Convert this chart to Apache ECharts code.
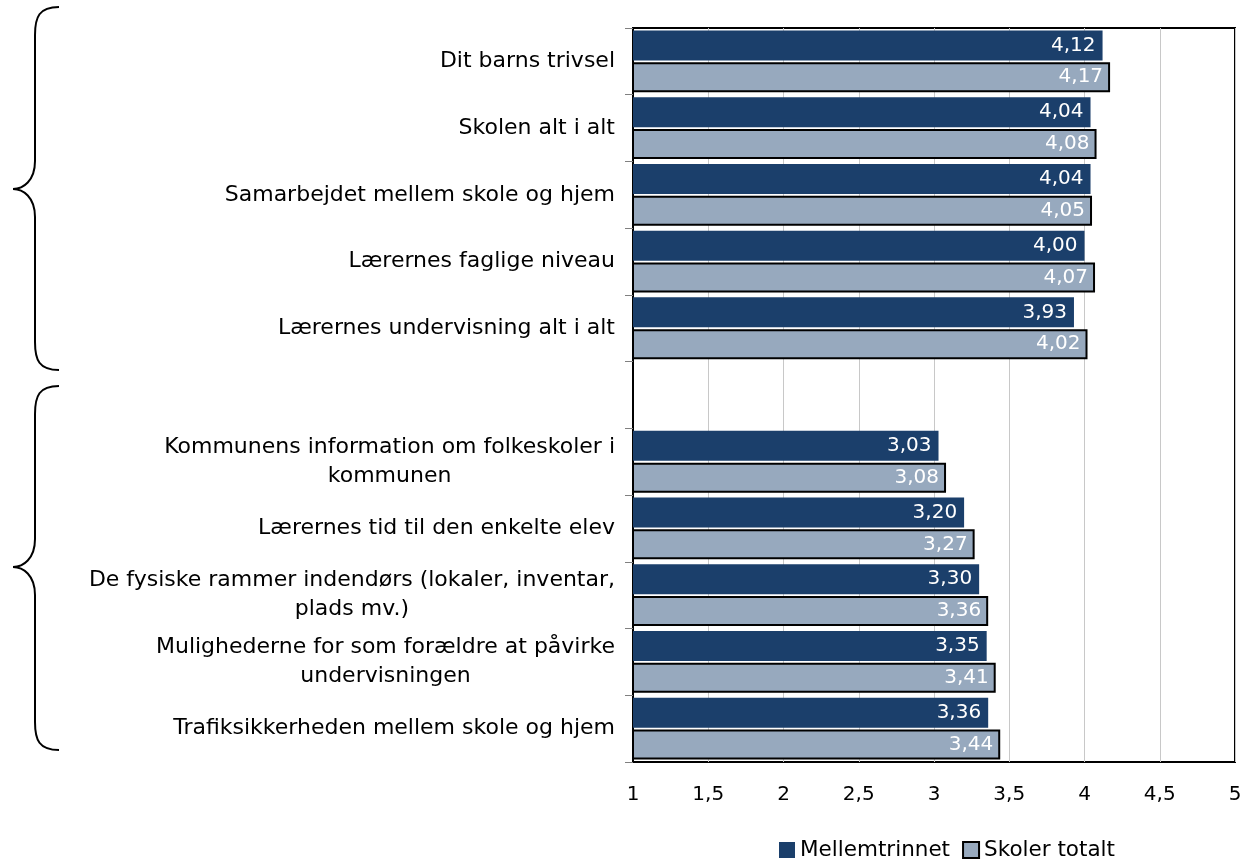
<!DOCTYPE html>
<html>
<head>
<meta charset="utf-8">
<script src="https://cdn.jsdelivr.net/npm/echarts@6/dist/echarts.min.js"></script>
<style>
html,body{margin:0;padding:0;background:#fff;}
#chart{width:1248px;height:859px;}
</style>
</head>
<body>
<div id="chart"></div>
<script>
const categories = [
  "Dit barns trivsel",
  "Skolen alt i alt",
  "Samarbejdet mellem skole og hjem",
  "Lærernes faglige niveau",
  "Lærernes undervisning alt i alt",
  "",
  "Kommunens information om folkeskoler i\nkommunen",
  "Lærernes tid til den enkelte elev",
  "De fysiske rammer indendørs (lokaler, inventar,\nplads mv.)",
  "Mulighederne for som forældre at påvirke\nundervisningen",
  "Trafiksikkerheden mellem skole og hjem"
];
const mellemtrinnet = [4.12, 4.04, 4.04, 4.00, 3.93, null, 3.03, 3.20, 3.30, 3.35, 3.36];
const skolerTotalt  = [4.17, 4.08, 4.05, 4.07, 4.02, null, 3.08, 3.27, 3.36, 3.41, 3.44];
const xTicks = [1, 1.5, 2, 2.5, 3, 3.5, 4, 4.5, 5];
const seriesNames = ["Mellemtrinnet", "Skoler totalt"];

const FONT = '"DejaVu Sans", Verdana, sans-serif';
const fmtNum = v => String(v).replace('.', ',');
const fmtVal = p => (p.value == null ? '' : p.value.toFixed(2).replace('.', ','));

// curly brace decoration built from bezier curves and lines
function brace(top, mid, bottom) {
  const xe = 59, xv = 35, xp = 13;
  const st = {fill: 'none', stroke: '#000', lineWidth: 2};
  const r = 28;
  return [
    {type: 'bezierCurve', shape: {x1: xe, y1: top, cpx1: xv + 4, cpy1: top, cpx2: xv, cpy2: top + 10, x2: xv, y2: top + r}, style: st},
    {type: 'line', shape: {x1: xv, y1: top + r, x2: xv, y2: mid - r}, style: st},
    {type: 'bezierCurve', shape: {x1: xv, y1: mid - r, cpx1: xv, cpy1: mid - 8, cpx2: xp + 10, cpy2: mid, x2: xp, y2: mid}, style: st},
    {type: 'bezierCurve', shape: {x1: xp, y1: mid, cpx1: xp + 10, cpy1: mid, cpx2: xv, cpy2: mid + 8, x2: xv, y2: mid + r}, style: st},
    {type: 'line', shape: {x1: xv, y1: mid + r, x2: xv, y2: bottom - r}, style: st},
    {type: 'bezierCurve', shape: {x1: xv, y1: bottom - r, cpx1: xv, cpy1: bottom - 10, cpx2: xv + 4, cpy2: bottom, x2: xe, y2: bottom}, style: st}
  ];
}

const chart = echarts.init(document.getElementById('chart'), null, {renderer: 'canvas'});
chart.setOption({
  backgroundColor: '#ffffff',
  animation: false,
  grid: {
    left: 633, right: 13, top: 28, bottom: 97,
    show: true, borderColor: '#000', borderWidth: 2, backgroundColor: 'transparent'
  },
  legend: {
    data: seriesNames,
    left: 774, top: 834,
    itemWidth: 16, itemHeight: 16, itemGap: 12,
    icon: 'rect',
    textStyle: {fontFamily: FONT, fontSize: 21.5, color: '#000'}
  },
  xAxis: {
    type: 'value',
    min: 1, max: 5, interval: 0.5,
    axisLine: {show: false},
    axisTick: {show: false},
    splitLine: {show: true, lineStyle: {color: '#c8c8c8', width: 1}},
    axisLabel: {
      fontFamily: FONT, fontSize: 20, color: '#000', margin: 23,
      formatter: v => fmtNum(v)
    }
  },
  yAxis: {
    type: 'category',
    data: categories,
    inverse: true,
    axisLine: {show: true, lineStyle: {color: '#000', width: 2}},
    axisTick: {show: true, length: 8, lineStyle: {color: '#808080', width: 1}},
    splitLine: {show: false},
    axisLabel: {
      interval: 0,
      margin: 18,
      formatter: v => v.split('\n').map(l => '{c|' + l + '}').join('\n'),
      rich: {
        c: {fontFamily: FONT, fontSize: 22, color: '#000', align: 'center', lineHeight: 29}
      }
    }
  },
  series: [
    {
      name: seriesNames[0],
      type: 'bar',
      data: mellemtrinnet,
      barWidth: 30,
      barGap: '6%',
      itemStyle: {color: '#1b3f6b'},
      label: {
        show: true, position: 'insideRight', distance: 7,
        color: '#fff', fontFamily: FONT, fontSize: 20,
        formatter: fmtVal
      }
    },
    {
      name: seriesNames[1],
      type: 'bar',
      data: skolerTotalt,
      barWidth: 30,
      itemStyle: {color: '#97a9be', borderColor: '#000', borderWidth: 2},
      label: {
        show: true, position: 'insideRight', distance: 7,
        color: '#fff', fontFamily: FONT, fontSize: 20,
        formatter: fmtVal
      }
    }
  ],
  graphic: brace(7, 189, 370).concat(brace(386, 567, 750))
});
</script>
</body>
</html>
